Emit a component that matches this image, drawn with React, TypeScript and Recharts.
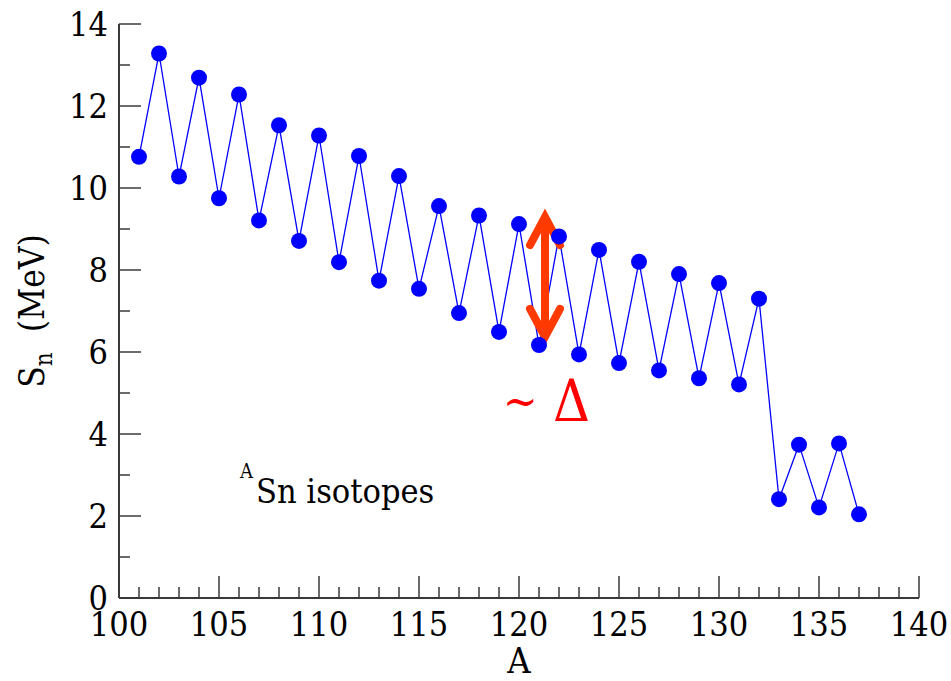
import React from "react";
import {
  LineChart,
  Line,
  XAxis,
  YAxis,
  ReferenceLine,
  ReferenceDot,
} from "recharts";

// mass number A of the Sn isotopes
const massNumbers = [
  101, 102, 103, 104, 105, 106, 107, 108, 109, 110, 111, 112, 113, 114, 115,
  116, 117, 118, 119, 120, 121, 122, 123, 124, 125, 126, 127, 128, 129, 130,
  131, 132, 133, 134, 135, 136, 137,
];

// neutron separation energy S_n (MeV)
const snValues = [
  10.76, 13.28, 10.28, 12.69, 9.75, 12.28, 9.21, 11.53, 8.71, 11.28, 8.19,
  10.78, 7.74, 10.29, 7.54, 9.56, 6.95, 9.33, 6.49, 9.12, 6.17, 8.82, 5.94,
  8.49, 5.73, 8.2, 5.55, 7.9, 5.36, 7.68, 5.21, 7.3, 2.41, 3.74, 2.21, 3.77,
  2.04,
];

const xMajorTicks = [100, 105, 110, 115, 120, 125, 130, 135, 140];
const yMajorTicks = [0, 2, 4, 6, 8, 10, 12, 14];
const xTicks = Array.from({ length: 41 }, (_, i) => 100 + i);
const yTicks = Array.from({ length: 15 }, (_, i) => i);

const data = massNumbers.map((a, i) => ({ a, sn: snValues[i] }));

const SERIF = { fontFamily: '"DejaVu Serif Condensed", "DejaVu Serif", serif' };
const FRAME = "#3a3a3a";
const BLUE = "#0000ff";
const MAJOR = 22;
const MINOR = 11;

const BottomTick = (props: any) => {
  const { x, y, payload } = props;
  const major = xMajorTicks.includes(payload.value);
  return (
    <g>
      <line x1={x} x2={x} y1={y} y2={y - (major ? MAJOR : MINOR)} stroke={FRAME} strokeWidth={1.5} />
      {major && (
        <text x={x} y={y + 38} textAnchor="middle" style={SERIF} fontSize={34} fill="#000">
          {payload.value}
        </text>
      )}
    </g>
  );
};

const TopTick = (props: any) => {
  const { x, y, payload } = props;
  const major = xMajorTicks.includes(payload.value);
  return <line x1={x} x2={x} y1={y} y2={y + (major ? MAJOR : MINOR)} stroke={FRAME} strokeWidth={1.5} />;
};

const LeftTick = (props: any) => {
  const { x, y, payload } = props;
  const major = yMajorTicks.includes(payload.value);
  return (
    <g>
      <line x1={x} x2={x + (major ? MAJOR : MINOR)} y1={y} y2={y} stroke={FRAME} strokeWidth={1.5} />
      {major && (
        <text x={x - 11} y={y + 12} textAnchor="end" style={SERIF} fontSize={34} fill="#000">
          {payload.value}
        </text>
      )}
    </g>
  );
};

const RightTick = (props: any) => {
  const { x, y, payload } = props;
  const major = yMajorTicks.includes(payload.value);
  return <line x1={x} x2={x - (major ? MAJOR : MINOR)} y1={y} y2={y} stroke={FRAME} strokeWidth={1.5} />;
};

const YTitle = (props: any) => {
  const vb = props.viewBox;
  const cy = vb.y + vb.height / 2;
  return (
    <text transform={`translate(44,${cy}) rotate(-90)`} textAnchor="middle" style={SERIF} fontSize={35} fill="#000">
      <tspan>S</tspan>
      <tspan fontSize={24} dy={8}>n</tspan>
      <tspan dy={-8}>{"\u00a0\u00a0(MeV)"}</tspan>
    </text>
  );
};

const XTitle = (props: any) => {
  const vb = props.viewBox;
  return (
    <text x={vb.x + vb.width / 2} y={vb.y + 75} textAnchor="middle" style={SERIF} fontSize={36} fill="#000">
      A
    </text>
  );
};

const DoubleArrow = (props: any) => {
  const { x1, y1, y2 } = props;
  const top = Math.min(y1, y2);
  const bot = Math.max(y1, y2);
  const c = "#ff3a00";
  return (
    <g stroke={c} strokeWidth={8} fill="none" strokeLinecap="round" strokeLinejoin="miter">
      <line x1={x1} x2={x1} y1={top + 6} y2={bot - 6} />
      <polyline points={`${x1 - 15},${top + 30} ${x1},${top + 2} ${x1 + 15},${top + 30}`} />
      <polyline points={`${x1 - 15},${bot - 30} ${x1},${bot - 2} ${x1 + 15},${bot - 30}`} />
    </g>
  );
};

const DeltaNote = (props: any) => {
  const { cx, cy } = props;
  return (
    <g style={SERIF} fill="#ff0000">
      <text x={cx} y={cy - 4} fontSize={46}>~</text>
      <text x={cx + 50} y={cy} fontSize={57}>Δ</text>
    </g>
  );
};

const IsotopeNote = (props: any) => {
  const { cx, cy } = props;
  return (
    <text x={cx} y={cy} style={SERIF} fill="#000">
      <tspan fontSize={20} dy={-25}>A</tspan>
      <tspan fontSize={34} dy={25} dx={3}>Sn isotopes</tspan>
    </text>
  );
};

export default function App() {
  return (
    <div style={{ width: 951, height: 681, background: "#fff" }}>
      <style>{"body{margin:0}"}</style>
      <LineChart
        width={951}
        height={681}
        data={data}
        margin={{ top: 24, right: 32, left: 0, bottom: 0 }}
        style={SERIF}
      >
        <XAxis
          dataKey="a"
          type="number"
          domain={[100, 140]}
          ticks={xTicks}
          interval={0}
          height={83}
          tickSize={0}
          tickMargin={0}
          tickLine={false}
          tick={<BottomTick />}
          axisLine={{ stroke: FRAME, strokeWidth: 2 }}
          label={<XTitle />}
        />
        <XAxis
          xAxisId="top"
          orientation="top"
          type="number"
          domain={[100, 140]}
          ticks={xTicks}
          interval={0}
          height={0}
          tickSize={0}
          tickMargin={0}
          tickLine={false}
          tick={<TopTick />}
          axisLine={{ stroke: FRAME, strokeWidth: 2 }}
        />
        <YAxis
          type="number"
          domain={[0, 14]}
          ticks={yTicks}
          interval={0}
          width={119}
          tickSize={0}
          tickMargin={0}
          tickLine={false}
          tick={<LeftTick />}
          axisLine={{ stroke: FRAME, strokeWidth: 2 }}
          label={<YTitle />}
        />
        <YAxis
          yAxisId="right"
          orientation="right"
          type="number"
          domain={[0, 14]}
          ticks={yTicks}
          interval={0}
          width={0}
          tickSize={0}
          tickMargin={0}
          tickLine={false}
          tick={<RightTick />}
          axisLine={{ stroke: FRAME, strokeWidth: 2 }}
        />
        <Line
          dataKey="sn"
          stroke={BLUE}
          strokeWidth={1.3}
          dot={{ r: 8, fill: BLUE, stroke: BLUE, strokeWidth: 0 }}
          activeDot={false}
          isAnimationActive={false}
        />
        <ReferenceLine
          segment={[
            { x: 121.3, y: 9.34 },
            { x: 121.3, y: 6.32 },
          ]}
          shape={<DoubleArrow />}
        />
        <ReferenceDot x={119.2} y={4.32} r={0} shape={<DeltaNote />} />
        <ReferenceDot x={106.05} y={2.32} r={0} shape={<IsotopeNote />} />
      </LineChart>
    </div>
  );
}
